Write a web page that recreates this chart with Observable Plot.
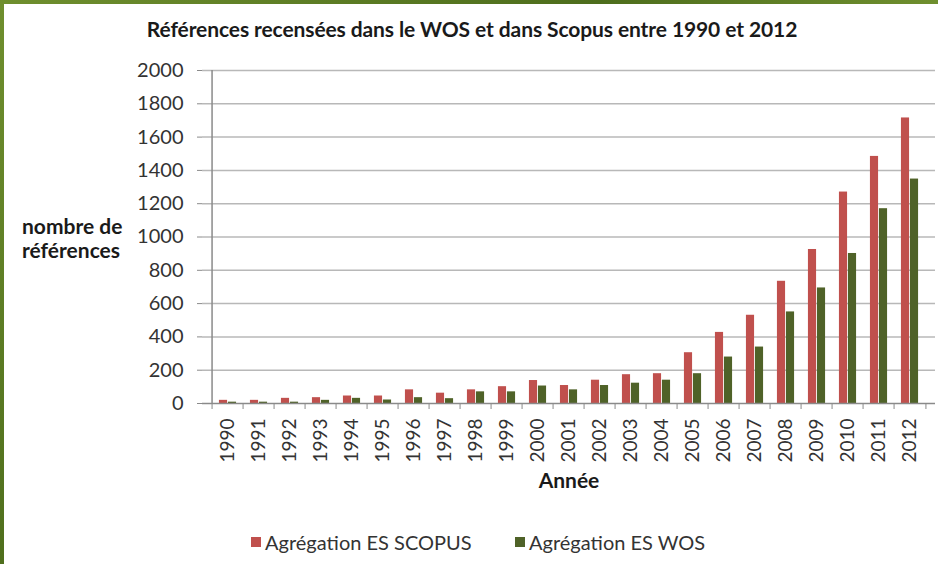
<!DOCTYPE html>
<html>
<head>
<meta charset="utf-8">
<script src="https://cdn.jsdelivr.net/npm/d3@7"></script>
<script src="https://cdn.jsdelivr.net/npm/@observablehq/plot@0.6"></script>
<style>
  html, body { margin: 0; padding: 0; }
  body {
    width: 938px; height: 564px; overflow: hidden; position: relative;
    background: linear-gradient(135deg, #6f8f2e 0%, #4d6d1c 40%, #7a9a34 70%, #4a6a1a 100%);
    font-family: Lato, "Open Sans", sans-serif;
  }
  #panel { position: absolute; left: 4px; top: 4px; width: 934px; height: 560px; background: #fff; }
  #title { position: absolute; left: 0; width: 944px; top: 16px; text-align: center;
    font-weight: bold; font-size: 21px; color: #1a1a1a; letter-spacing: -0.1px; }
  #ylabel { position: absolute; left: 22px; top: 214px; font-weight: bold; font-size: 21px;
    line-height: 24px; color: #1a1a1a; }
  #chart { position: absolute; left: 0; top: 50px; }
  #legend { position: absolute; top: 530px; left: 0; width: 938px; font-size: 20px; color: #333; }
  .item { position: absolute; display: flex; align-items: center; }
  .sw { width: 10px; height: 10px; margin-right: 4px; }
</style>
</head>
<body>
<div id="panel"></div>
<div id="title">Références recensées dans le WOS et dans Scopus entre 1990 et 2012</div>
<div id="ylabel">nombre de<br>références</div>
<div id="chart"></div>
<div id="legend"></div>
<script>
const years = ["1990","1991","1992","1993","1994","1995","1996","1997","1998","1999","2000","2001","2002","2003","2004","2005","2006","2007","2008","2009","2010","2011","2012"];
const scopus = [19, 19, 31, 35, 45, 45, 82, 62, 82, 101, 138, 108, 140, 173, 179, 305, 427, 530, 734, 925, 1270, 1484, 1715];
const wos = [8, 8, 8, 19, 31, 21, 35, 29, 70, 70, 105, 82, 108, 122, 140, 179, 279, 339, 550, 694, 901, 1170, 1348];
const yTicks = [0, 200, 400, 600, 800, 1000, 1200, 1400, 1600, 1800, 2000];
const seriesNames = ["Agrégation ES SCOPUS", "Agrégation ES WOS"];
const seriesColors = ["#c0504d", "#4f6228"];

const data = years.map((y, i) => ({year: y, scopus: scopus[i], wos: wos[i]}));

const W = 938, H = 450, mL = 202, mR = 3, mT = 20, mB = 97;
const bw = (W - mL - mR) / years.length;
const barW = 9;
const inset = (bw - barW) / 2;

const chart = Plot.plot({
  width: W, height: H,
  marginLeft: mL, marginRight: mR, marginTop: mT, marginBottom: mB,
  style: {fontFamily: "Lato, sans-serif", background: "transparent"},
  x: {domain: years, padding: 0, axis: null},
  y: {domain: [0, 2000], axis: null},
  marks: [
    Plot.gridY(yTicks.slice(1), {stroke: "#b8b8b8", strokeOpacity: 1, strokeWidth: 1.5}),
    Plot.barY(data, {x: "year", y: "scopus", fill: seriesColors[0], insetLeft: inset, insetRight: inset, dx: -barW / 2}),
    Plot.barY(data, {x: "year", y: "wos", fill: seriesColors[1], insetLeft: inset, insetRight: inset, dx: barW / 2}),
    Plot.ruleY([0], {stroke: "#8a8a8a", strokeWidth: 1.5}),
    Plot.ruleX([years[0]], {dx: -bw / 2, stroke: "#8a8a8a", strokeWidth: 1.5}),
    Plot.axisY({ticks: yTicks, tickSize: 5, tickPadding: 14, fontSize: 20, stroke: "#8a8a8a", color: "#333", label: null, tickFormat: d => String(d)}),
    Plot.axisX({tickSize: 6, tickFormat: () => "", dx: -bw / 2, stroke: "#8a8a8a", label: null}),
    Plot.axisX({ticks: [years[years.length - 1]], tickSize: 6, tickFormat: () => "", dx: bw / 2, stroke: "#8a8a8a", label: null}),
    Plot.axisX({tickSize: 0, tickPadding: 15, tickRotate: -90, fontSize: 19, color: "#333", label: null}),
    Plot.text(["Année"], {frameAnchor: "bottom", dy: 84, fontWeight: "bold", fontSize: 21, fill: "#1a1a1a"})
  ]
});
document.getElementById("chart").appendChild(chart);

const legend = document.getElementById("legend");
const lefts = [251, 515];
seriesNames.forEach((n, i) => {
  const d = document.createElement("div");
  d.className = "item";
  d.style.left = lefts[i] + "px";
  d.innerHTML = `<span class="sw" style="background:${seriesColors[i]}"></span><span>${n}</span>`;
  legend.appendChild(d);
});
</script>
</body>
</html>
